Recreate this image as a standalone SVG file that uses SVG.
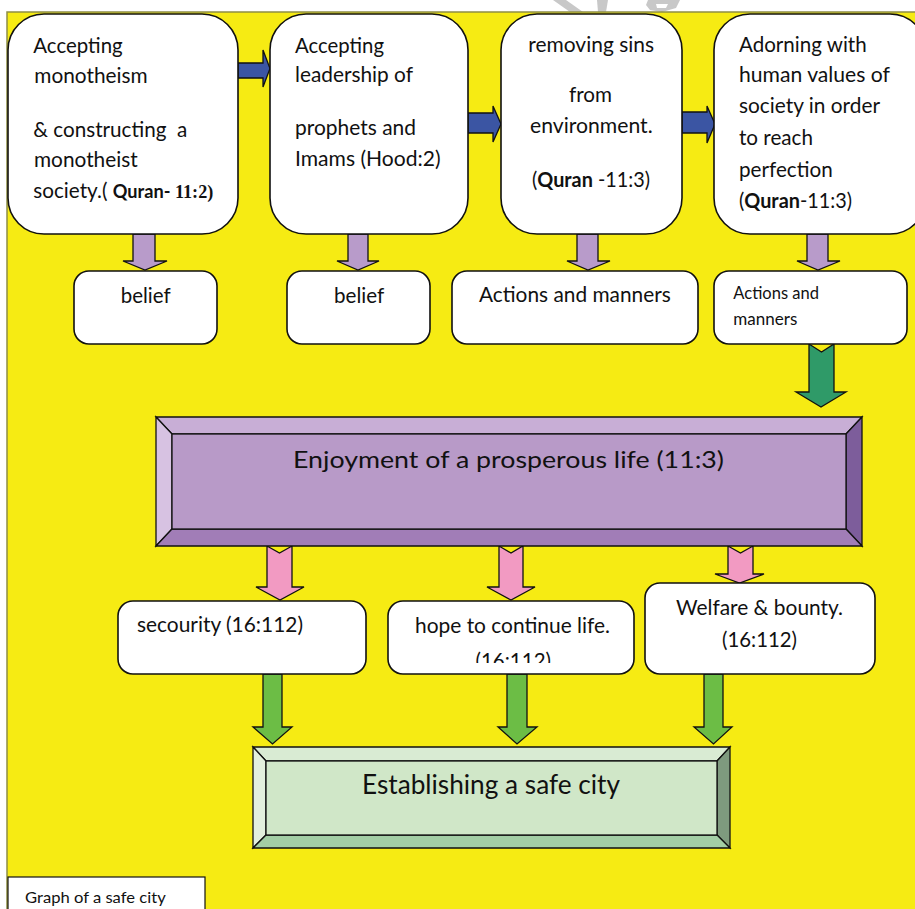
<svg xmlns="http://www.w3.org/2000/svg" width="915" height="909" viewBox="0 0 915 909">
<defs>
<style>
.t{font-family:Lato,"Open Sans","Noto Sans",sans-serif;font-size:20.5px;fill:#111;}
.b{font-weight:bold;}
.box{fill:#fff;stroke:#111;stroke-width:1.6;}
.ar{stroke:#111;stroke-width:1.3;stroke-linejoin:miter;}
.blue{fill:#3b55a3;}
.lp{fill:#b89bca;}
.dg{fill:#2f9a68;}
.pk{fill:#f29ac2;}
.lg{fill:#6cbd45;}
.bev{stroke:#111;stroke-width:1.3;}
</style>
<clipPath id="clipHope"><rect x="389" y="600" width="244" height="63"/></clipPath>
</defs>
<rect x="0" y="0" width="915" height="909" fill="#fff"/>
<g id="watermark" fill="#c8c8c8">
<path d="M553,0 L566,0 L583,12 L570,12 Z"/>
<path d="M597,0 L608,0 L606,12 L598,12 Z"/>
<path d="M648,0 L680,0 L676,8 L662,12 L650,10 L646,5 Z M656,4 L668,4 L666,8 L657,8 Z" fill-rule="evenodd"/>
</g>
<rect x="7" y="12" width="912" height="902" fill="#f6eb13" stroke="#8f8f46" stroke-width="1.5"/>

<g id="connectors">
<polygon class="ar blue" points="238,63 263,63 263,50 270,68.5 263,87 263,78 238,78"/>
<polygon class="ar blue" points="468,113 493,113 493,106 501,124 493,142 493,133 468,133"/>
<polygon class="ar blue" points="682,112 707,112 707,106 715,124 707,143 707,133 682,133"/>
<polygon class="ar lp" points="133,234 155,234 155,261 167,261 145,270 123,261 133,261"/>
<polygon class="ar lp" points="348,234 368,234 368,261 379,261 358,270 337,261 348,261"/>
<polygon class="ar lp" points="577,234 598,234 598,261 610,261 588,270 567,261 577,261"/>
<polygon class="ar lp" points="807,234 828,234 828,261 840,261 818,270 797,261 807,261"/>
<polygon class="ar dg" points="809,344 821.5,352 834,344 834,392 846,392 821,407 796,392 809,392"/>
<polygon class="ar pk" points="267,546 279.5,553 292,546 292,587 304,587 280,600 256,587 267,587"/>
<polygon class="ar pk" points="499,546 511,553 523,546 523,587 535,587 511,600 487,587 499,587"/>
<polygon class="ar pk" points="728,546 740.5,553 753,546 753,574 764,574 739.5,583 715,574 728,574"/>
<polygon class="ar lg" points="263,674 282,674 282,727 292,727 272.5,744 253,727 263,727"/>
<polygon class="ar lg" points="507,674 527,674 527,727 537,727 517,744 498,727 507,727"/>
<polygon class="ar lg" points="704,674 723,674 723,727 732,727 713.5,744 694,727 704,727"/>
</g>

<g id="n1"><rect class="box" x="8" y="14" width="230" height="220" rx="36"/>
<text class="t" x="33.3" y="53" textLength="89.4" lengthAdjust="spacingAndGlyphs">Accepting</text>
<text class="t" x="34.3" y="83" textLength="113.4" lengthAdjust="spacingAndGlyphs">monotheism</text>
<text class="t" x="33.3" y="137" textLength="154" lengthAdjust="spacingAndGlyphs" style="white-space:pre">&amp; constructing  a</text>
<text class="t" x="34" y="167" textLength="103.7" lengthAdjust="spacingAndGlyphs">monotheist</text>
<text class="t" x="33.3" y="198" textLength="180" lengthAdjust="spacingAndGlyphs" style="white-space:pre">society.( <tspan class="b" style="font-size:18px">Quran-</tspan><tspan class="b" style="font-size:18px;font-family:'Liberation Serif',serif"> 11:2)</tspan></text>
</g>
<g id="n2"><rect class="box" x="270" y="14" width="198" height="220" rx="36"/>
<text class="t" x="295" y="53" textLength="89" lengthAdjust="spacingAndGlyphs">Accepting</text>
<text class="t" x="295" y="82" textLength="118" lengthAdjust="spacingAndGlyphs">leadership of</text>
<text class="t" x="295" y="135" textLength="121" lengthAdjust="spacingAndGlyphs">prophets and</text>
<text class="t" x="295" y="166" textLength="145.7" lengthAdjust="spacingAndGlyphs">Imams (Hood:2)</text>
</g>
<g id="n3"><rect class="box" x="501" y="14" width="181" height="220" rx="36"/>
<text class="t" x="528.3" y="52" textLength="125.7" lengthAdjust="spacingAndGlyphs">removing sins</text>
<text class="t" x="569" y="102" textLength="43" lengthAdjust="spacingAndGlyphs">from</text>
<text class="t" x="530" y="133" textLength="122.7" lengthAdjust="spacingAndGlyphs">environment.</text>
<text class="t" x="532" y="187" textLength="118" lengthAdjust="spacingAndGlyphs">(<tspan class="b">Quran</tspan> -11:3)</text>
</g>
<g id="n4"><rect class="box" x="714" y="14" width="212" height="220" rx="36"/>
<text class="t" x="739" y="52" textLength="127.7" lengthAdjust="spacingAndGlyphs">Adorning with</text>
<text class="t" x="739" y="82" textLength="151" lengthAdjust="spacingAndGlyphs">human values of</text>
<text class="t" x="739" y="113" textLength="141" lengthAdjust="spacingAndGlyphs">society in order</text>
<text class="t" x="739" y="145" textLength="74" lengthAdjust="spacingAndGlyphs">to reach</text>
<text class="t" x="739" y="177" textLength="93.7" lengthAdjust="spacingAndGlyphs">perfection</text>
<text class="t" x="739" y="208" textLength="113" lengthAdjust="spacingAndGlyphs">(<tspan class="b">Quran</tspan>-11:3)</text>
</g>

<g id="n5"><rect class="box" x="74" y="271" width="143" height="73" rx="15"/>
<text class="t" x="120.7" y="303" textLength="50" lengthAdjust="spacingAndGlyphs">belief</text></g>
<g id="n6"><rect class="box" x="287" y="271" width="143" height="73" rx="15"/>
<text class="t" x="334" y="303" textLength="50.3" lengthAdjust="spacingAndGlyphs">belief</text></g>
<g id="n7"><rect class="box" x="452" y="271" width="246" height="73" rx="15"/>
<text class="t" x="479" y="302" textLength="191.7" lengthAdjust="spacingAndGlyphs">Actions and manners</text></g>
<g id="n8"><rect class="box" x="714" y="271" width="193" height="73" rx="15"/>
<text class="t" x="733.3" y="299" style="font-size:16.5px" textLength="85.7" lengthAdjust="spacingAndGlyphs">Actions and</text>
<text class="t" x="733.3" y="325" style="font-size:16.5px" textLength="64" lengthAdjust="spacingAndGlyphs">manners</text></g>

<g id="n9">
<polygon class="bev" fill="#c8aed6" points="156,417 862,417 846,434 172,434"/>
<polygon class="bev" fill="#d7c2e2" points="156,417 172,434 172,529 156,546"/>
<polygon class="bev" fill="#7d5d9b" points="862,417 862,546 846,529 846,434"/>
<polygon class="bev" fill="#a17db7" points="156,546 172,529 846,529 862,546"/>
<rect class="bev" fill="#b89ac8" x="172" y="434" width="674" height="95"/>
<text class="t" x="293" y="468" style="font-size:24px" textLength="431" lengthAdjust="spacingAndGlyphs">Enjoyment of a prosperous life (11:3)</text>
</g>

<g id="n10"><rect class="box" x="118" y="601" width="248" height="73" rx="15"/>
<text class="t" x="137" y="632" textLength="166" lengthAdjust="spacingAndGlyphs">secourity (16:112)</text></g>
<g id="n11"><rect class="box" x="388" y="601" width="246" height="73" rx="15"/>
<text class="t" x="415" y="633" textLength="195" lengthAdjust="spacingAndGlyphs">hope to continue life.</text>
<text class="t" x="475.5" y="668" textLength="75.5" lengthAdjust="spacingAndGlyphs" clip-path="url(#clipHope)">(16:112)</text></g>
<g id="n12"><rect class="box" x="645" y="583" width="230" height="91" rx="15"/>
<text class="t" x="676" y="615" textLength="167" lengthAdjust="spacingAndGlyphs">Welfare &amp; bounty.</text>
<text class="t" x="722" y="647" textLength="75" lengthAdjust="spacingAndGlyphs">(16:112)</text></g>

<g id="n13">
<polygon class="bev" fill="#d9ebd3" points="253,747 730,747 717,761 266,761"/>
<polygon class="bev" fill="#e3f0dd" points="253,747 266,761 266,835 253,848"/>
<polygon class="bev" fill="#7e9a7e" points="730,747 730,848 717,835 717,761"/>
<polygon class="bev" fill="#a3cea5" points="253,848 266,835 717,835 730,848"/>
<rect class="bev" fill="#d0e7c8" x="266" y="761" width="451" height="74"/>
<text class="t" x="362" y="794" style="font-size:26px" textLength="258" lengthAdjust="spacingAndGlyphs">Establishing a safe city</text>
</g>

<g id="n14"><rect x="8" y="877" width="197" height="40" fill="#fff" stroke="#111" stroke-width="1.2"/>
<text class="t" x="25" y="903" style="font-size:16px" textLength="140.7" lengthAdjust="spacingAndGlyphs">Graph of a safe city</text></g>
</svg>
